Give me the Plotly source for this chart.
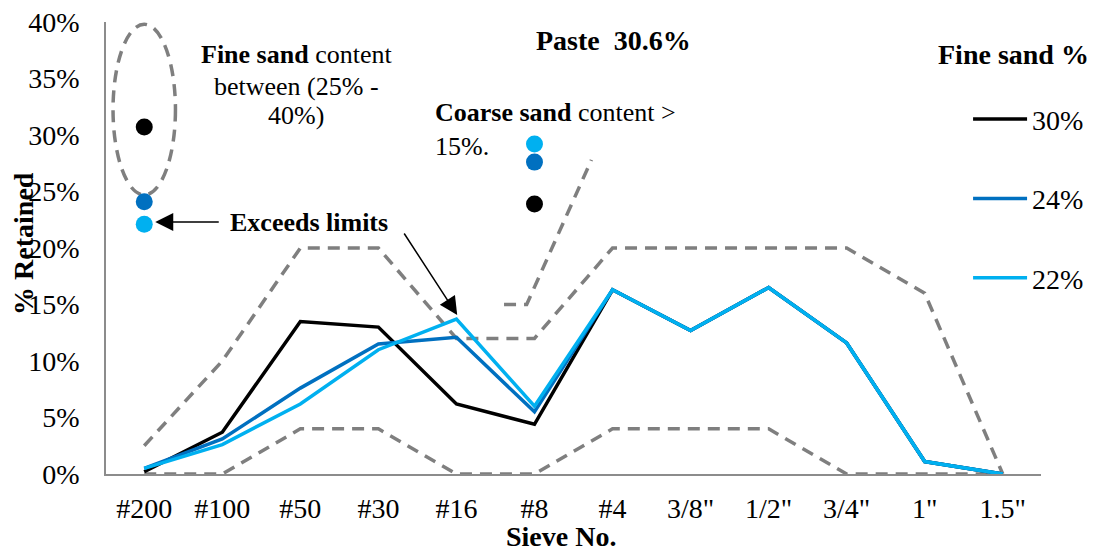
import plotly.graph_objects as go

# ---------------- data ----------------
sieves = ['#200', '#100', '#50', '#30', '#16', '#8', '#4', '3/8"', '1/2"', '3/4"', '1"', '1.5"']
fs30 = [0.2, 3.7, 13.5, 13.0, 6.2, 4.4, 16.3, 12.7, 16.5, 11.6, 1.1, 0.0]
fs24 = [0.5, 3.1, 7.6, 11.5, 12.1, 5.5, 16.3, 12.7, 16.5, 11.6, 1.1, 0.0]
fs22 = [0.5, 2.6, 6.2, 11.0, 13.7, 6.0, 16.3, 12.7, 16.5, 11.6, 1.1, 0.0]
upper_limit = [2.5, 10, 20, 20, 12, 12, 20, 20, 20, 20, 16, 0]
lower_limit = [0, 0, 4, 4, 0, 0, 4, 4, 4, 0, 0, 0]
coarse_limit_x = [4.61, 4.9, 5.73]
coarse_limit_y = [15, 15, 27.8]
fine_sand_dots = [30.7, 24.1, 22.1]     # at #200 column
coarse_sand_dots = [23.9, 27.6, 29.2]   # at #8 column
series_names = ['30%', '24%', '22%']
series_colors = ['#000000', '#0070C0', '#00B0F0']
y_ticks = [0, 5, 10, 15, 20, 25, 30, 35, 40]
y_ticktext = ['0%', '5%', '10%', '15%', '20%', '25%', '30%', '35%', '40%']

FONT = 'Liberation Serif, Times New Roman, serif'
GRAY = '#7F7F7F'
DASH = '12px,8px'
xi = list(range(len(sieves)))

fig = go.Figure()

# limit lines
for xs, ys in [(xi, upper_limit), (xi, lower_limit), (coarse_limit_x, coarse_limit_y)]:
    fig.add_trace(go.Scatter(x=xs, y=ys, mode='lines', showlegend=False,
                             line=dict(color=GRAY, width=3.5, dash=DASH), hoverinfo='skip'))

# series lines
for name, ys, col in zip(series_names, [fs30, fs24, fs22], series_colors):
    fig.add_trace(go.Scatter(x=xi, y=ys, mode='lines', name=name, legendgroup=name,
                             line=dict(color=col, width=3.5)))

# dots
for v, col in zip(fine_sand_dots, series_colors):
    fig.add_trace(go.Scatter(x=[0], y=[v], mode='markers', showlegend=False,
                             marker=dict(color=col, size=17, line=dict(width=0))))
for v, col in zip(coarse_sand_dots, series_colors):
    fig.add_trace(go.Scatter(x=[5], y=[v], mode='markers', showlegend=False,
                             marker=dict(color=col, size=17, line=dict(width=0))))

# ellipse around fine sand dot
fig.add_shape(type='circle', xref='x', yref='y', x0=-0.40, x1=0.40, y0=24.7, y1=39.8,
              line=dict(color=GRAY, width=3.5, dash=DASH), layer='below')

tf = dict(family=FONT, size=26, color='black')
bf = dict(family=FONT, size=28, color='black')
ann = []
ann.append(dict(x=6.01, y=38.4, xref='x', yref='y', text='<b>Paste\u00a0 30.6%</b>',
                showarrow=False, font=bf, xanchor='center', yanchor='middle'))
for t, yy in [('<b>Fine sand</b> content', 37.1), ('between (25% -', 34.3), ('40%)', 31.7)]:
    ann.append(dict(x=1.95, y=yy, xref='x', yref='y', text=t, showarrow=False, font=tf,
                    xanchor='center', yanchor='middle'))
for t, yy in [('<b>Coarse sand</b> content >', 31.95), ('15%.', 29.0)]:
    ann.append(dict(x=3.705, y=yy, xref='x', yref='y', text=t, showarrow=False,
                    xanchor='left', yanchor='middle', font=tf))
ann.append(dict(x=1.077, y=22.3, xref='x', yref='y', text='<b>Exceeds limits</b>',
                showarrow=False, xanchor='left', yanchor='middle', font=tf))
ann.append(dict(x=0.141, y=22.3, xref='x', yref='y', text='', showarrow=True,
                ax=65, ay=0, arrowhead=2, arrowsize=2.4, arrowwidth=1.5, arrowcolor='black'))
ann.append(dict(x=4.01, y=14.07, xref='x', yref='y', text='', showarrow=True,
                ax=-54, ay=-83, arrowhead=2, arrowsize=2.4, arrowwidth=1.5, arrowcolor='black'))
ann.append(dict(x=-0.0877, y=0.509, xref='paper', yref='paper', text='<b>% Retained</b>',
                textangle=-90, showarrow=False, font=bf, xanchor='center', yanchor='middle',
                borderpad=0))
ann.append(dict(x=0.4866, y=-0.139, xref='paper', yref='paper', text='<b>Sieve No.</b>',
                showarrow=False, font=bf, xanchor='center', yanchor='middle', borderpad=0))
ann.append(dict(x=0.9706, y=0.927, xref='paper', yref='paper', text='<b>Fine sand %</b>',
                showarrow=False, font=bf, xanchor='center', yanchor='middle'))

# page body has an 8px margin, so the figure is sized/offset to compensate
fig.update_layout(
    template='none',
    width=1091, height=543,
    margin=dict(l=98, r=58, t=14, b=77, autoexpand=False),
    paper_bgcolor='white', plot_bgcolor='white',
    font=dict(family=FONT, size=28, color='black'),
    annotations=ann,
    showlegend=True,
    legend=dict(x=0.922, xanchor='left', y=0.84, yanchor='top',
                bgcolor='rgba(0,0,0,0)', borderwidth=0,
                font=dict(family=FONT, size=28, color='black'),
                tracegroupgap=40, itemwidth=54),
    xaxis=dict(range=[-0.49, 11.49], tickmode='array', tickvals=xi, ticktext=sieves,
               showgrid=False, zeroline=False, showline=True, linecolor='#8C8C8C', linewidth=1.5,
               ticks='', automargin=False, ticklabelstandoff=9, ticklabeloverflow='allow',
               tickfont=dict(family=FONT, size=28, color='black')),
    yaxis=dict(range=[0, 40], tickmode='array', tickvals=y_ticks, ticktext=y_ticktext,
               showgrid=False, zeroline=False, showline=True, linecolor='#8C8C8C', linewidth=1.5,
               ticks='', automargin=False, ticklabelstandoff=19, ticklabeloverflow='allow',
               tickfont=dict(family=FONT, size=28, color='black')),
)

fig.write_html('out.html')
